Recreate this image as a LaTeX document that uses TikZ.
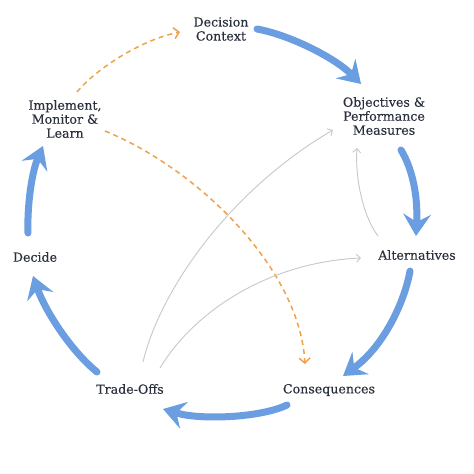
\documentclass[tikz,border=0pt]{standalone}
\usepackage{fontspec}
\setmainfont[FakeBold=0.15]{DejaVu Serif}
\usetikzlibrary{arrows.meta}
\definecolor{cycleblue}{HTML}{6A9EE0}
\definecolor{loopor}{HTML}{F0A24A}
\definecolor{linkgray}{HTML}{C8C8C8}
\definecolor{labeltext}{HTML}{2A2F3C}
\begin{document}
\begin{tikzpicture}[x=1pt,y=-1pt,
  lbl/.style={text=labeltext,font=\fontsize{12.6}{14}\selectfont,align=center,inner sep=0pt},
  cycle/.style={draw=cycleblue,line width=7pt,line cap=round,
    -{Stealth[length=22pt,width=28pt,inset=8pt,line width=0pt]}},
  feedback/.style={draw=loopor,line width=1.5pt,dash pattern=on 5pt off 4pt,
    -{Straight Barb[length=5pt,width=11pt,line width=1.5pt]}},
  link/.style={draw=linkgray,line width=0.9pt,
    -{Straight Barb[length=4pt,width=8pt,line width=0.9pt]}}]
\useasboundingbox (0,0) rectangle (474,474);
\fill[white] (0,0) rectangle (474,474);

\node[lbl] (dc) at (221,29) {Decision\\Context};
\node[lbl] (obj) at (384,116) {Objectives \&\\Performance\\Measures};
\node[lbl] (alt) at (417,255) {Alternatives};
\node[lbl] (con) at (329,390) {Consequences};
\node[lbl] (to) at (130,389) {Trade-Offs};
\node[lbl] (dec) at (35,257) {Decide};
\node[lbl] (imp) at (65,119) {Implement,\\Monitor \&\\Learn};

% connector ends
\coordinate (dcS) at (257,29);   \coordinate (objIn) at (361,84);
\coordinate (objS) at (401,150); \coordinate (altIn) at (416,236);
\coordinate (altS) at (410,271); \coordinate (conIn) at (343,376);
\coordinate (conS) at (287,405); \coordinate (toIn) at (163,409);
\coordinate (toS) at (97,372);   \coordinate (decIn) at (33,276);
\coordinate (decS) at (28,233);  \coordinate (impIn) at (43,146);
\coordinate (impA) at (77,92);   \coordinate (dcFb) at (180,32);
\coordinate (impB) at (105,131); \coordinate (conFb) at (305,364);
\coordinate (toA) at (143,362);  \coordinate (objL) at (333,130);
\coordinate (toB) at (160,368);  \coordinate (altL) at (361,258);
\coordinate (altU) at (378,236); \coordinate (objB) at (357,148);

% main cycle
\draw[cycle] (dcS) .. controls (290,35) and (335,58) .. (objIn);
\draw[cycle] (objS) .. controls (412,168) and (418,195) .. (altIn);
\draw[cycle] (altS) .. controls (405,300) and (385,345) .. (conIn);
\draw[cycle] (conS) .. controls (260,418) and (200,420) .. (toIn);
\draw[cycle] (toS) .. controls (70,350) and (45,310) .. (decIn);
\draw[cycle] (decS) .. controls (27,205) and (32,172) .. (impIn);

% feedback (orange dashed)
\draw[feedback] (impA) .. controls (95,70) and (140,40) .. (dcFb);
\draw[feedback] (impB) .. controls (200,170) and (300,270) .. (conFb);

% gray links
\draw[link] (toA) .. controls (160,290) and (230,190) .. (objL);
\draw[link] (toB) .. controls (195,310) and (270,262) .. (altL);
\draw[link] (altU) .. controls (362,215) and (355,175) .. (objB);
\end{tikzpicture}
\end{document}
